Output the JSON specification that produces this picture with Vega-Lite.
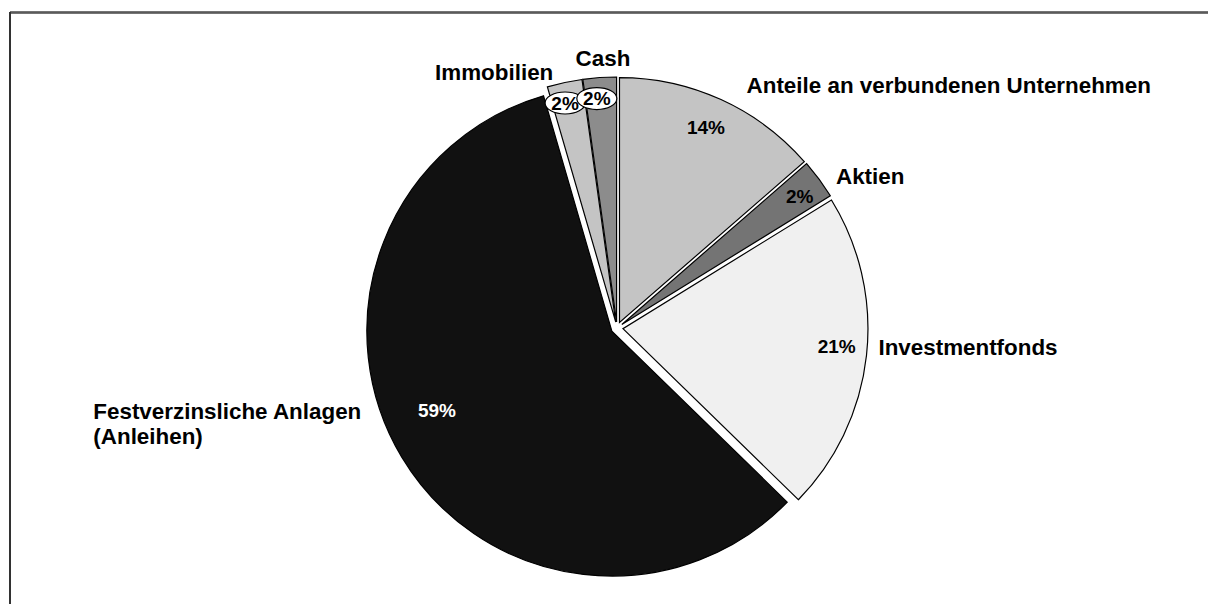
{
  "$schema": "https://vega.github.io/schema/vega-lite/v6.json",
  "width": 1208,
  "height": 604,
  "autosize": {"type": "fit", "contains": "padding"},
  "padding": {"left": 9, "top": 11, "right": -17, "bottom": -41},
  "background": "white",
  "config": {
    "view": {"stroke": null},
    "font": "Liberation Sans",
    "text": {"font": "Liberation Sans", "fontWeight": "bold", "baseline": "alphabetic"}
  },
  "data": {
    "values": [
      {"ord": 1, "name": "Anteile an verbundenen Unternehmen", "value": 13.6, "pct": "14%"},
      {"ord": 2, "name": "Aktien", "value": 2.6, "pct": "2%"},
      {"ord": 3, "name": "Investmentfonds", "value": 21.1, "pct": "21%"},
      {"ord": 4, "name": "Festverzinsliche Anlagen\n(Anleihen)", "value": 58.2, "pct": "59%"},
      {"ord": 5, "name": "Immobilien", "value": 2.3, "pct": "2%"},
      {"ord": 6, "name": "Cash", "value": 2.2, "pct": "2%"}
    ]
  },
  "transform": [
    {"window": [{"op": "sum", "field": "value", "as": "cum"}], "sort": [{"field": "ord"}], "frame": [null, 0]},
    {"calculate": "datum.cum - datum.value/2", "as": "mid"}
  ],
  "layer": [
    {
      "mark": {"type": "rule", "stroke": "#5a5a5a", "strokeWidth": 1.6},
      "encoding": {
        "x": {"value": 0},
        "x2": {"value": {"expr": "width"}},
        "y": {"value": 0.5}
      }
    },
    {
      "mark": {"type": "rule", "stroke": "#333333", "strokeWidth": 1.6},
      "encoding": {
        "x": {"value": 0},
        "y": {"value": 0},
        "y2": {"value": {"expr": "height"}}
      }
    },
    {
      "mark": {
        "type": "arc",
        "radius": 245,
        "stroke": "#000000",
        "strokeWidth": 1.2,
        "xOffset": {"expr": "6*sin(2*PI*datum.mid/100)"},
        "yOffset": {"expr": "-6*cos(2*PI*datum.mid/100)"}
      },
      "encoding": {
        "theta": {"field": "value", "type": "quantitative", "stack": true, "scale": {"domain": [0, 100]}},
        "order": {"field": "ord", "type": "quantitative"},
        "color": {
          "field": "name",
          "type": "nominal",
          "scale": {
            "domain": ["Anteile an verbundenen Unternehmen", "Aktien", "Investmentfonds", "Festverzinsliche Anlagen\n(Anleihen)", "Immobilien", "Cash"],
            "range": ["#c4c4c4", "#747474", "#f0f0f0", "#111111", "#c4c4c4", "#8c8c8c"]
          },
          "legend": null
        }
      }
    },
    {
      "transform": [{"filter": {"field": "ord", "oneOf": [5, 6]}}],
      "mark": {
        "type": "point",
        "filled": true,
        "fill": "white",
        "stroke": "#000000",
        "strokeWidth": 1.2,
        "opacity": 1,
        "size": 1600,
        "shape": "M-1,0A1,0.55,0,1,1,1,0A1,0.55,0,1,1,-1,0Z",
        "xOffset": {"expr": "227*sin(2*PI*datum.mid/100) - 4.5"},
        "yOffset": {"expr": "-227*cos(2*PI*datum.mid/100) - 3"}
      },
      "encoding": {}
    },
    {
      "transform": [{"filter": {"field": "ord", "oneOf": [5, 6]}}],
      "mark": {"type": "text", "radius": 227, "fontSize": 19, "align": "center", "dx": -4.5, "dy": 3.5, "fill": "#000000"},
      "encoding": {
        "theta": {"field": "mid", "type": "quantitative", "stack": null},
        "text": {"field": "pct"}
      }
    },
    {
      "transform": [{"filter": {"field": "ord", "equal": 1}}],
      "mark": {"type": "text", "radius": 222, "fontSize": 19, "align": "center", "dx": -3, "dy": 8, "fill": "#000000"},
      "encoding": {
        "theta": {"field": "mid", "type": "quantitative", "stack": null},
        "text": {"field": "pct"}
      }
    },
    {
      "transform": [{"filter": {"field": "ord", "equal": 2}}],
      "mark": {"type": "text", "radius": 222, "fontSize": 19, "align": "center", "dx": 4, "dy": 7, "fill": "#000000"},
      "encoding": {
        "theta": {"field": "mid", "type": "quantitative", "stack": null},
        "text": {"field": "pct"}
      }
    },
    {
      "transform": [{"filter": {"field": "ord", "equal": 3}}],
      "mark": {"type": "text", "radius": 222, "fontSize": 19, "align": "center", "dx": -1, "dy": 1, "fill": "#000000"},
      "encoding": {
        "theta": {"field": "mid", "type": "quantitative", "stack": null},
        "text": {"field": "pct"}
      }
    },
    {
      "transform": [{"filter": {"field": "ord", "equal": 4}}],
      "mark": {"type": "text", "radius": 210, "fontSize": 19, "align": "center", "dx": 0, "dy": -19, "fill": "#ffffff"},
      "encoding": {
        "theta": {"field": "mid", "type": "quantitative", "stack": null},
        "text": {"field": "pct"}
      }
    },
    {
      "transform": [{"filter": {"field": "ord", "equal": 1}}],
      "mark": {"type": "text", "radius": 262, "fontSize": 22.4, "align": "left", "dx": 21, "dy": 3, "fill": "#000000"},
      "encoding": {
        "theta": {"field": "mid", "type": "quantitative", "stack": null},
        "text": {"field": "name"}
      }
    },
    {
      "transform": [{"filter": {"field": "ord", "equal": 2}}],
      "mark": {"type": "text", "radius": 262, "fontSize": 22.4, "align": "left", "dx": 8, "dy": 11.5, "fill": "#000000"},
      "encoding": {
        "theta": {"field": "mid", "type": "quantitative", "stack": null},
        "text": {"field": "name"}
      }
    },
    {
      "transform": [{"filter": {"field": "ord", "equal": 3}}],
      "mark": {"type": "text", "radius": 262, "fontSize": 22.4, "align": "left", "dx": 1, "dy": -1.5, "fill": "#000000"},
      "encoding": {
        "theta": {"field": "mid", "type": "quantitative", "stack": null},
        "text": {"field": "name"}
      }
    },
    {
      "transform": [{"filter": {"field": "ord", "equal": 4}}],
      "mark": {"type": "text", "radius": 262, "fontSize": 22.4, "align": "left", "lineBreak": "\n", "lineHeight": 25, "dx": -299, "dy": -44, "fill": "#000000"},
      "encoding": {
        "theta": {"field": "mid", "type": "quantitative", "stack": null},
        "text": {"field": "name"}
      }
    },
    {
      "transform": [{"filter": {"field": "ord", "equal": 5}}],
      "mark": {"type": "text", "radius": 262, "fontSize": 22.4, "align": "right", "dx": -9, "dy": 8, "fill": "#000000"},
      "encoding": {
        "theta": {"field": "mid", "type": "quantitative", "stack": null},
        "text": {"field": "name"}
      }
    },
    {
      "transform": [{"filter": {"field": "ord", "equal": 6}}],
      "mark": {"type": "text", "radius": 268, "fontSize": 22.4, "align": "center", "dx": 4.5, "dy": 5, "fill": "#000000"},
      "encoding": {
        "theta": {"field": "mid", "type": "quantitative", "stack": null},
        "text": {"field": "name"}
      }
    }
  ]
}
